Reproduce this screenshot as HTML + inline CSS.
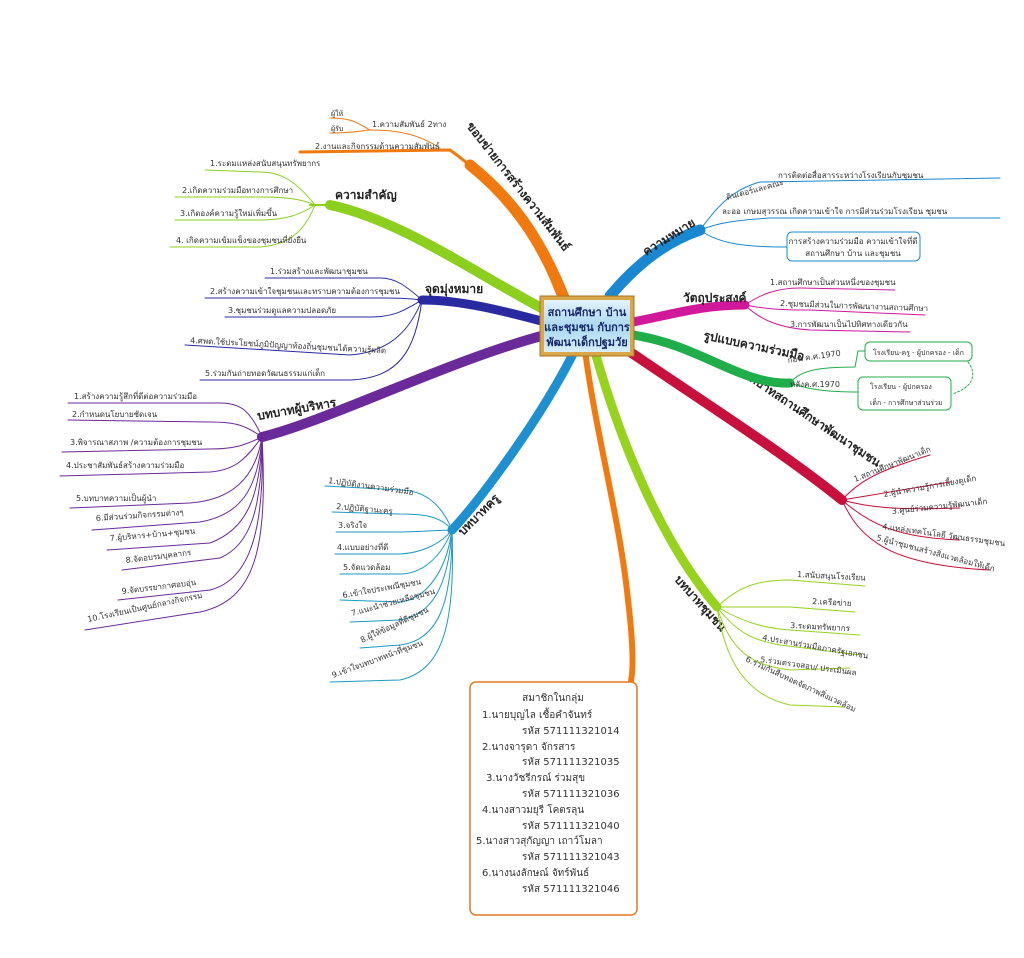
<!DOCTYPE html>
<html><head><meta charset="utf-8"><style>
html,body{margin:0;padding:0;background:#fff;}
svg{display:block}
text{font-family:"DejaVu Sans","Liberation Sans",sans-serif;fill:#333;}
.s{font-size:8px}
.l{font-size:12px;font-weight:bold;fill:#222}
path{fill:none;stroke-linecap:round}
</style></head><body>
<svg width="1024" height="958" viewBox="0 0 1024 958" xmlns="http://www.w3.org/2000/svg">
<rect width="1024" height="958" fill="#fff"/>

<!-- ===== MAIN BRANCHES ===== -->
<path d="M560 300 C540 250 520 200 450 150 L300 152" stroke="#f07a10" stroke-width="3"/>
<path d="M565 300 C545 250 520 205 470 165" stroke="#f07a10" stroke-width="11"/>
<text class="l" transform="translate(466,126) rotate(52)">ขอบข่ายการสร้างความสัมพันธ์</text>
<path d="M545 310 C470 270 400 220 330 205" stroke="#8ccf1e" stroke-width="10"/>
<path d="M330 205 L310 205" stroke="#8ccf1e" stroke-width="2"/>
<text class="l" x="335" y="199">ความสำคัญ</text>
<path d="M545 322 C500 310 460 300 422 300" stroke="#2a2aa0" stroke-width="9"/>
<text class="l" x="425" y="293">จุดมุ่งหมาย</text>
<path d="M545 335 C450 360 330 420 262 437" stroke="#6a2a9a" stroke-width="10"/>
<text class="l" x="258" y="420" transform="rotate(-10 258 420)">บทบาทผู้บริหาร</text>
<path d="M575 350 C540 420 480 500 452 530" stroke="#1e90d0" stroke-width="9"/>
<text class="l" transform="translate(463,536) rotate(-45)">บทบาทครู</text>
<path d="M585 350 C595 430 620 520 628 600 C634 650 634 680 628 690" stroke="#f07a10" stroke-width="6"/>
<path d="M595 352 C620 440 660 540 717 607" stroke="#96d21e" stroke-width="9"/>
<text class="l" transform="translate(674,580) rotate(48)">บทบาทชุมชน</text>
<path d="M620 345 C700 400 780 450 842 500" stroke="#c8103c" stroke-width="10"/>
<text class="l" transform="translate(742,376) rotate(34)">บทบาทสถานศึกษาพัฒนาชุมชน</text>
<path d="M633 335 C700 345 740 385 790 383" stroke="#1fae4a" stroke-width="9"/>
<text class="l" transform="translate(703,339) rotate(12)">รูปแบบความร่วมมือ</text>
<path d="M633 322 C670 315 700 305 745 305" stroke="#d0189a" stroke-width="9"/>
<text class="l" x="683" y="302">วัตถุประสงค์</text>
<path d="M610 296 C640 260 670 240 700 230" stroke="#1a88d0" stroke-width="11"/>
<text class="l" transform="translate(646,256) rotate(-32)">ความหมาย</text>

<!-- ===== ORANGE TOP SUBS ===== -->
<g stroke="#f07a10" stroke-width="1">
<path d="M440 148 C420 135 400 130 370 130"/>
<path d="M370 130 C360 125 355 118 330 118"/>
<path d="M370 130 C360 131 350 133 330 133"/>
</g>
<text class="s" x="372" y="127">1.ความสัมพันธ์ 2ทาง</text>
<text class="s" x="331" y="116" style="font-size:7px">ผู้ให้</text>
<text class="s" x="331" y="131" style="font-size:7px">ผู้รับ</text>
<text class="s" x="315" y="149">2.งานและกิจกรรมด้านความสัมพันธ์</text>

<!-- ===== LIGHT GREEN SUBS ===== -->
<g stroke="#8ccf1e" stroke-width="1">
<path d="M315 205 C295 180 280 172 260 172 L205 170"/>
<path d="M315 205 C300 198 280 197 260 197 L175 197"/>
<path d="M315 205 C300 215 285 220 260 220 L175 220"/>
<path d="M315 205 C305 230 290 245 260 247 L170 247"/>
</g>
<text class="s" x="210" y="166">1.ระดมแหล่งสนับสนุนทรัพยากร</text>
<text class="s" x="182" y="193">2.เกิดความร่วมมือทางการศึกษา</text>
<text class="s" x="180" y="216">3.เกิดองค์ความรู้ใหม่เพิ่มขึ้น</text>
<text class="s" x="176" y="243">4. เกิดความเข้มแข็งของชุมชนที่ยั่งยืน</text>

<!-- ===== NAVY SUBS ===== -->
<g stroke="#2a2aa0" stroke-width="1">
<path d="M422 300 C405 285 395 278 380 278 L265 278"/>
<path d="M422 300 C405 298 395 298 380 298 L205 298"/>
<path d="M422 300 C405 310 395 317 370 317 L225 317"/>
<path d="M422 300 C410 330 390 352 350 355 L185 345"/>
<path d="M422 300 C415 350 400 378 350 380 L200 380"/>
</g>
<text class="s" x="270" y="274">1.ร่วมสร้างและพัฒนาชุมชน</text>
<text class="s" x="210" y="294">2.สร้างความเข้าใจชุมชนและทราบความต้องการชุมชน</text>
<text class="s" x="228" y="313">3.ชุมชนร่วมดูแลความปลอดภัย</text>
<text class="s" transform="translate(190,343) rotate(3)">4.ศพด.ใช้ประโยชน์ภูมิปัญญาท้องถิ่นชุมชนได้ความรู้ผลิต</text>
<text class="s" x="205" y="376">5.ร่วมกันถ่ายทอดวัฒนธรรมแก่เด็ก</text>

<!-- ===== PURPLE SUBS ===== -->
<g stroke="#6a2a9a" stroke-width="1">
<path d="M262 437 C250 410 240 403 220 403 L68 403"/>
<path d="M262 437 C245 425 235 422 210 422 L68 420"/>
<path d="M262 437 C245 445 235 449 210 449 L62 452"/>
<path d="M262 437 C245 460 235 470 210 472 L60 476"/>
<path d="M262 437 C255 480 230 500 190 503 L70 508"/>
<path d="M262 437 C258 490 240 515 200 522 L92 530"/>
<path d="M262 437 C260 500 245 530 210 543 L107 550"/>
<path d="M262 437 C262 510 250 545 220 558 L122 570"/>
<path d="M262 437 C265 530 250 580 210 590 L118 600"/>
<path d="M262 437 C268 550 255 600 200 612 L85 630"/>
</g>
<text class="s" x="74" y="399">1.สร้างความรู้สึกที่ดีต่อความร่วมมือ</text>
<text class="s" x="72" y="417">2.กำหนดนโยบายชัดเจน</text>
<text class="s" x="70" y="445">3.พิจารณาสภาพ /ความต้องการชุมชน</text>
<text class="s" x="66" y="468">4.ประชาสัมพันธ์สร้างความร่วมมือ</text>
<text class="s" x="76" y="501">5.บทบาทความเป็นผู้นำ</text>
<text class="s" x="96" y="521" transform="rotate(-4 96 521)">6.มีส่วนร่วมกิจกรรมต่างๆ</text>
<text class="s" x="110" y="541" transform="rotate(-5 110 541)">7.ผู้บริหาร+บ้าน+ชุมชน</text>
<text class="s" x="126" y="563" transform="rotate(-7 126 563)">8.จัดอบรมบุคลากร</text>
<text class="s" x="122" y="594" transform="rotate(-7 122 594)">9.จัดบรรยากาศอบอุ่น</text>
<text class="s" x="88" y="622" transform="rotate(-12 88 622)">10.โรงเรียนเป็นศูนย์กลางกิจกรรม</text>

<!-- ===== TEACHER SUBS ===== -->
<g stroke="#1a9ac0" stroke-width="1">
<path d="M452 530 C440 500 420 490 400 490 L325 486"/>
<path d="M452 530 C440 515 420 514 400 514 L332 512"/>
<path d="M452 530 C440 530 420 532 400 532 L336 532"/>
<path d="M452 530 C440 545 420 553 400 554 L335 554"/>
<path d="M452 530 C440 560 420 574 400 574 L340 574"/>
<path d="M452 530 C445 580 420 600 400 602 L340 600"/>
<path d="M452 530 C448 590 430 615 400 620 L350 622"/>
<path d="M452 530 C452 600 440 640 400 645 L360 648"/>
<path d="M452 530 C455 620 445 670 400 680 L330 682"/>
</g>
<text class="s" x="328" y="483" transform="rotate(8 328 483)">1.ปฏิบัติงานความร่วมมือ</text>
<text class="s" x="336" y="509" transform="rotate(5 336 509)">2.ปฏิบัติฐานะครู</text>
<text class="s" x="338" y="528">3.จริงใจ</text>
<text class="s" x="337" y="550">4.แบบอย่างที่ดี</text>
<text class="s" x="343" y="570">5.จัดแวดล้อม</text>
<text class="s" x="343" y="598" transform="rotate(-10 343 598)">6.เข้าใจประเพณีชุมชน</text>
<text class="s" x="352" y="616" transform="rotate(-15 352 616)">7.แนะนำช่วยเหลือชุมชน</text>
<text class="s" x="362" y="643" transform="rotate(-25 362 643)">8.ผู้ให้ข้อมูลที่ดีชุมชน</text>
<text class="s" x="333" y="678" transform="rotate(-20 333 678)">9.เข้าใจบทบาทหน้าที่ชุมชน</text>

<!-- ===== COMMUNITY SUBS ===== -->
<g stroke="#96d21e" stroke-width="1">
<path d="M717 607 C740 585 760 580 790 580 L865 586"/>
<path d="M717 607 C740 607 760 607 790 607 L855 612"/>
<path d="M717 607 C740 620 760 628 790 630 L860 635"/>
<path d="M717 607 C735 630 750 640 780 645 L860 655"/>
<path d="M717 607 C730 650 750 665 790 670 L850 668"/>
<path d="M717 607 C725 660 745 695 790 705 L845 707"/>
</g>
<text class="s" x="797" y="577" transform="rotate(3 797 577)">1.สนับสนุนโรงเรียน</text>
<text class="s" x="812" y="604" transform="rotate(3 812 604)">2.เครือข่าย</text>
<text class="s" x="790" y="628" transform="rotate(3 790 628)">3.ระดมทรัพยากร</text>
<text class="s" x="762" y="640" transform="rotate(10 762 640)">4.ประสานร่วมมือภาครัฐเอกชน</text>
<text class="s" x="760" y="662" transform="rotate(8 760 662)">5.ร่วมตรวจสอบ/ ประเมินผล</text>
<text class="s" x="745" y="661" transform="rotate(25 745 661)">6.ร่วมกันสืบทอดจัดภาพสิ่งแวดล้อม</text>

<!-- ===== RED SUBS ===== -->
<g stroke="#c8103c" stroke-width="1">
<path d="M842 500 C860 480 880 470 930 455"/>
<path d="M842 500 C870 495 900 490 950 482"/>
<path d="M842 500 C870 508 900 510 960 508"/>
<path d="M842 500 C870 525 900 538 960 540"/>
<path d="M842 500 C860 540 890 565 990 570"/>
</g>
<text class="s" transform="translate(855,482) rotate(-22)">1.สถานศึกษาพัฒนาเด็ก</text>
<text class="s" transform="translate(884,497) rotate(-10)">2.ผู้นำความรู้การเลี้ยงดูเด็ก</text>
<text class="s" transform="translate(892,514) rotate(-6)">3.ศูนย์ร่วมความรู้พัฒนาเด็ก</text>
<text class="s" transform="translate(882,529) rotate(8)">4.แหล่งเทคโนโลยี วัฒนธรรมชุมชน</text>
<text class="s" transform="translate(876,540) rotate(15)">5.ผู้นำชุมชนสร้างสิ่งแวดล้อมให้เด็ก</text>

<!-- ===== GREEN SUBS ===== -->
<g stroke="#1fae4a" stroke-width="1">
<path d="M790 383 C800 370 820 367 855 367 L858 351 L865 351"/>
<path d="M790 383 C810 390 830 392 858 392"/>
</g>
<text class="s" x="788" y="363" transform="rotate(-8 788 363)">ก่อน ค.ศ.1970</text>
<text class="s" x="790" y="387">หลังค.ศ.1970</text>
<rect x="865" y="342" width="107" height="19" rx="5" fill="#fff" stroke="#1fae4a" stroke-width="1"/>
<text class="s" x="873" y="355" style="font-size:7px">โรงเรียน-ครู - ผู้ปกครอง - เด็ก</text>
<rect x="858" y="377" width="93" height="33" rx="5" fill="#fff" stroke="#1fae4a" stroke-width="1"/>
<text class="s" x="870" y="389" style="font-size:7px">โรงเรียน  -  ผู้ปกครอง</text>
<text class="s" x="870" y="405" style="font-size:7px">เด็ก  - การศึกษาส่วนร่วม</text>
<path d="M968 362 C978 375 972 388 952 394" stroke="#1fae4a" stroke-width="1" stroke-dasharray="2,2"/>

<!-- ===== MAGENTA SUBS ===== -->
<g stroke="#d0189a" stroke-width="1">
<path d="M745 305 C760 295 775 288 800 288 L895 290"/>
<path d="M745 305 C770 310 790 310 810 310 L925 315"/>
<path d="M745 305 C760 320 780 328 810 330 L910 332"/>
</g>
<text class="s" x="770" y="285">1.สถานศึกษาเป็นส่วนหนึ่งของชุมชน</text>
<text class="s" x="780" y="306" transform="rotate(2 780 306)">2.ชุมชนมีส่วนในการพัฒนางานสถานศึกษา</text>
<text class="s" x="790" y="327">3.การพัฒนาเป็นไปทิศทางเดียวกัน</text>

<!-- ===== SKY BLUE SUBS ===== -->
<g stroke="#1a88d0" stroke-width="1">
<path d="M700 230 C715 210 730 190 760 182 L1000 178"/>
<path d="M700 230 C720 222 740 220 770 218 L1000 218"/>
<path d="M700 230 C720 245 750 247 787 247"/>
</g>
<text class="s" transform="translate(727,200) rotate(-15)">ดินเตอร์และคณะ</text>
<text class="s" x="778" y="178">การติดต่อสื่อสารระหว่างโรงเรียนกับชุมชน</text>
<text class="s" x="722" y="214">ละออ เกษมสุวรรณ เกิดความเข้าใจ การมีส่วนร่วมโรงเรียน ชุมชน</text>
<rect x="787" y="232" width="133" height="29" rx="5" fill="#fff" stroke="#1a88d0" stroke-width="1"/>
<text class="s" x="853" y="244" text-anchor="middle">การสร้างความร่วมมือ ความเข้าใจที่ดี</text>
<text class="s" x="853" y="256" text-anchor="middle">สถานศึกษา บ้าน และชุมชน</text>

<!-- ===== CENTER ===== -->
<defs>
<linearGradient id="cg" x1="0" y1="0" x2="0" y2="1">
<stop offset="0" stop-color="#e4f3fb"/><stop offset="0.5" stop-color="#a9d8f0"/><stop offset="1" stop-color="#d6eef9"/>
</linearGradient>
</defs>
<rect x="540" y="296" width="94" height="60" fill="#d9a64a" stroke="#a87420" stroke-width="1"/>
<rect x="544" y="300" width="86" height="52" fill="url(#cg)"/>
<path d="M574 356 L587 352 L600 356 L600 361 L587 358 L574 361Z" fill="#b03020"/>
<text x="587" y="316" text-anchor="middle" style="font-size:11px;font-weight:bold;fill:#1a2a6a">สถานศึกษา บ้าน</text>
<text x="587" y="331" text-anchor="middle" style="font-size:11px;font-weight:bold;fill:#1a2a6a">และชุมชน กับการ</text>
<text x="587" y="346" text-anchor="middle" style="font-size:11px;font-weight:bold;fill:#1a2a6a">พัฒนาเด็กปฐมวัย</text>

<!-- ===== MEMBER BOX ===== -->
<rect x="470" y="682" width="167" height="233" rx="6" fill="#fff" stroke="#e07a20" stroke-width="1.5"/>
<g>
<text x="553" y="701" text-anchor="middle" style="font-size:10px">สมาชิกในกลุ่ม</text>
<text x="482" y="718" style="font-size:10px">1.นายบุญไล เชื้อคำจันทร์</text>
<text x="522" y="734" style="font-size:10px">รหัส 571111321014</text>
<text x="482" y="750" style="font-size:10px">2.นางจารุดา  จักรสาร</text>
<text x="522" y="765" style="font-size:10px">รหัส 571111321035</text>
<text x="486" y="781" style="font-size:10px">3.นางวัชรีกรณ์  ร่วมสุข</text>
<text x="522" y="797" style="font-size:10px">รหัส 571111321036</text>
<text x="482" y="813" style="font-size:10px">4.นางสาวมยุรี  โคตรลุน</text>
<text x="522" y="829" style="font-size:10px">รหัส 571111321040</text>
<text x="476" y="844" style="font-size:10px">5.นางสาวสุกัญญา  เถาว์โมลา</text>
<text x="522" y="860" style="font-size:10px">รหัส 571111321043</text>
<text x="482" y="876" style="font-size:10px">6.นางนงลักษณ์  จัทร์พันธ์</text>
<text x="522" y="892" style="font-size:10px">รหัส 571111321046</text>
</g>
</svg>
</body></html>
